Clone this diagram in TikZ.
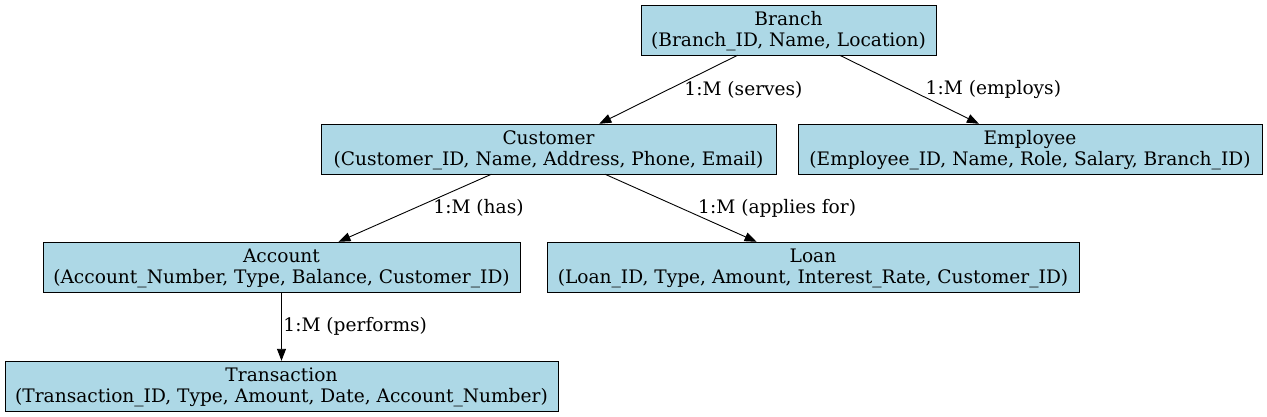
\documentclass[tikz,border=0pt]{standalone}
\usepackage{fontspec}
\setmainfont{DejaVu Serif}
\usetikzlibrary{arrows.meta}
\definecolor{lightblue}{HTML}{ADD8E6}
\begin{document}
\begin{tikzpicture}[x=1pt, y=-1pt,
    entity/.style={draw, fill=lightblue, rectangle, align=center, inner sep=0pt,
        minimum height=50pt, text depth=2pt, font=\fontsize{18.6}{21}\selectfont},
    rel/.style={-{Triangle[length=12pt,width=9pt]}, line width=0.9pt},
    lbl/.style={anchor=west, inner sep=0pt, font=\fontsize{18.6}{21}\selectfont}]
    \useasboundingbox (0,0) rectangle (1267,417);
    \node[entity, minimum width=295pt] (branch) at (788.5,30)
        {Branch\\(Branch\_ID, Name, Location)};
    \node[entity, minimum width=455pt] (customer) at (548.5,149)
        {Customer\\(Customer\_ID, Name, Address, Phone, Email)};
    \node[entity, minimum width=464pt] (employee) at (1030,149)
        {Employee\\(Employee\_ID, Name, Role, Salary, Branch\_ID)};
    \node[entity, minimum width=477pt] (account) at (281.5,267)
        {Account\\(Account\_Number, Type, Balance, Customer\_ID)};
    \node[entity, minimum width=532pt] (loan) at (813,267)
        {Loan\\(Loan\_ID, Type, Amount, Interest\_Rate, Customer\_ID)};
    \node[entity, minimum width=553pt] (transaction) at (281.5,386)
        {Transaction\\(Transaction\_ID, Type, Amount, Date, Account\_Number)};
    % relationships
    \draw[rel] (branch) -- node[lbl, xshift=15.5pt] {1:M (serves)} (customer);
    \draw[rel] (branch) -- node[lbl, xshift=16pt] {1:M (employs)} (employee);
    \draw[rel] (customer) -- node[lbl, xshift=18pt] {1:M (has)} (account);
    \draw[rel] (customer) -- node[lbl, xshift=17pt] {1:M (applies for)} (loan);
    \draw[rel] (account) -- node[lbl, xshift=1.5pt] {1:M (performs)} (transaction);
\end{tikzpicture}
\end{document}
